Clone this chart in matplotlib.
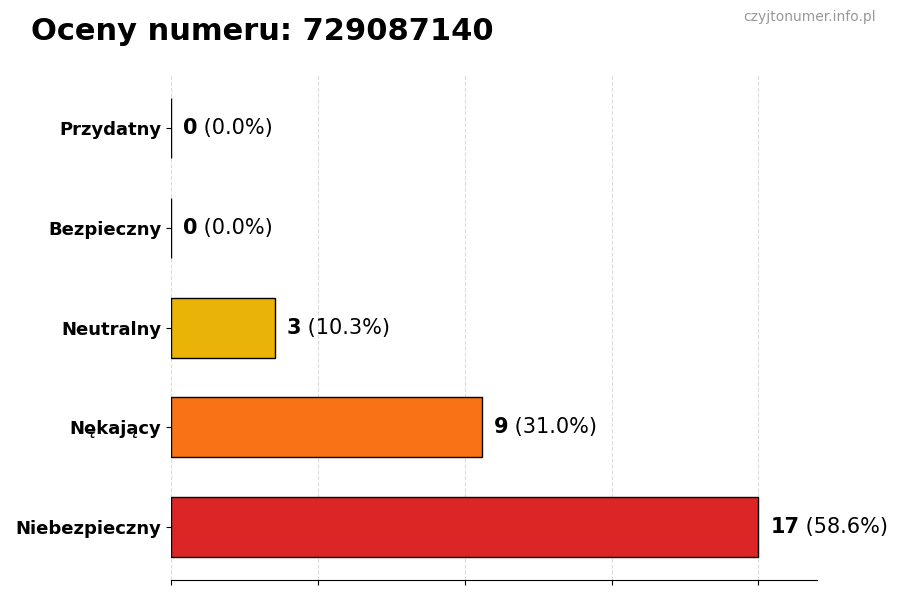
import matplotlib
matplotlib.use("Agg")
import matplotlib.pyplot as plt

# Rating categories (top to bottom in the chart)
categories = ["Niebezpieczny", "Nękający", "Neutralny", "Bezpieczny", "Przydatny"]
counts = [17, 9, 3, 0, 0]
percents = [58.6, 31.0, 10.3, 0.0, 0.0]
colors = ["#dc2626", "#f97316", "#eab308", "#22c55e", "#16a34a"]

fig, ax = plt.subplots(figsize=(9, 6), dpi=100)
fig.subplots_adjust(left=0.19, right=0.908, top=0.875, bottom=0.033)

ax.barh(categories, counts, height=0.6, color=colors, edgecolor="black",
        linewidth=1, zorder=2)

max_val = max(counts)
ax.set_xlim(0, max_val * 1.1)
ax.set_xticks([max_val * i / 4 for i in range(5)])
ax.set_xticklabels([])
# grid drawn over the bars, faint
ax.grid(axis="x", linestyle="--", color="#bbbbbb", alpha=0.5, zorder=3)

for side in ["top", "right", "left"]:
    ax.spines[side].set_visible(False)

for lbl in ax.get_yticklabels():
    lbl.set_fontweight("bold")
    lbl.set_fontsize(13)

# value labels: bold count followed by regular percentage
for i, (c, p) in enumerate(zip(counts, percents)):
    t = ax.text(c + max_val * 0.02, i, str(c), va="center", ha="left",
                fontsize=15, fontweight="bold")
    ax.annotate(f" ({p:.1f}%)", xy=(1, 0.5), xycoords=t, va="center",
                ha="left", fontsize=15)

fig.text(0.034, 0.948, "Oceny numeru: 729087140", fontsize=22,
         fontweight="bold", ha="left", va="center")
fig.text(0.973, 0.971, "czyjtonumer.info.pl", fontsize=10, color="#999999",
         ha="right", va="center")

plt.savefig("out.png", dpi=100)
